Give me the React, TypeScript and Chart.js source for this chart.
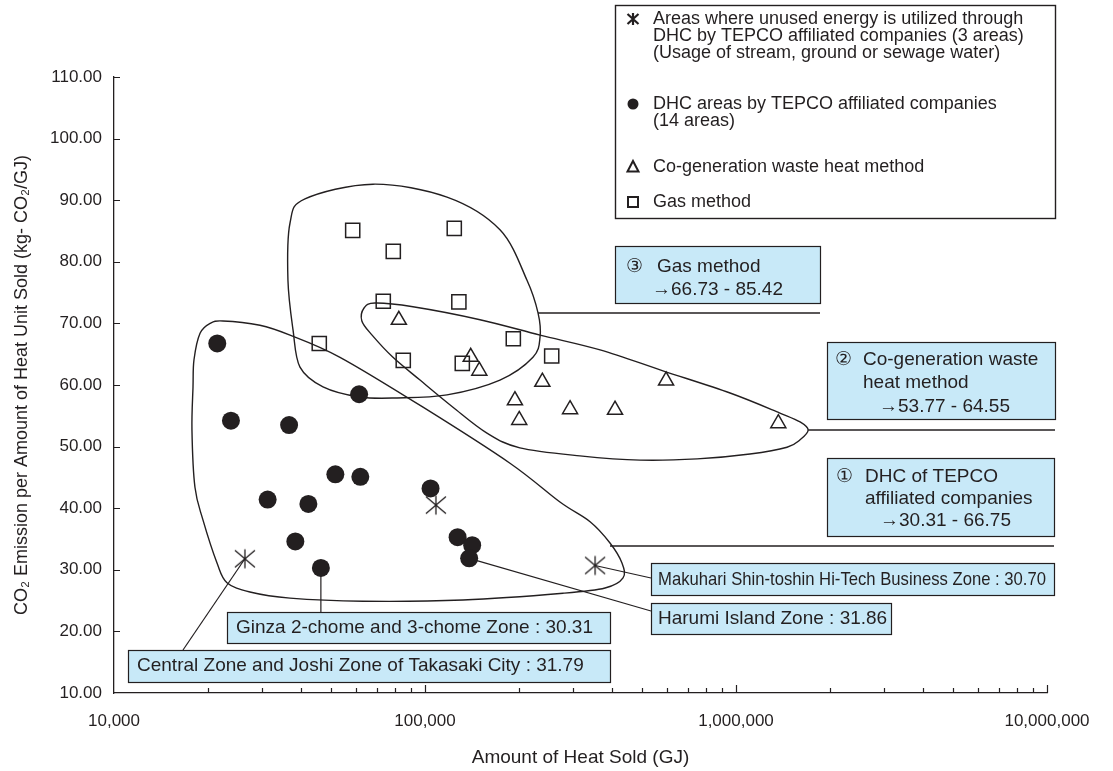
import React, { useEffect, useRef } from 'react';
import { Chart, registerables } from 'chart.js';

Chart.register(...registerables);

const FONT = '"Liberation Sans", Arial, Helvetica, sans-serif';
const INK = '#231f20';
const BOX_FILL = '#c8e9f8';

// ---------------- data ----------------
// Areas where unused energy is utilized (asterisks)
const unusedX = [26360, 108400, 352300];
const unusedY = [31.79, 40.5, 30.7];

// DHC areas by TEPCO affiliated companies (filled circles)
const dhcX = [21480, 23770, 36560, 61400, 51500, 61950, 104200, 31190, 42170, 38290, 46260, 127300, 141800, 138700];
const dhcY = [66.75, 54.2, 53.5, 58.5, 45.5, 45.1, 43.2, 41.4, 40.7, 34.6, 30.31, 35.3, 34.0, 31.86];

// Co-generation waste heat method (triangles)
const cogenX = [82400, 140300, 149500, 238400, 194600, 200900, 292700, 595900, 408300, 1368000];
const cogenY = [70.55, 64.55, 62.3, 60.5, 57.5, 54.3, 56.05, 60.7, 55.95, 53.77];

// Gas method (squares)
const gasX = [58550, 124200, 79070, 73420, 128500, 45710, 85130, 131800, 192300, 255500];
const gasY = [85.1, 85.42, 81.7, 73.6, 73.5, 66.73, 64.0, 63.5, 67.5, 64.7];

// group outlines (in data units)
const gasOutlineX = [41120, 68070, 117700, 174200, 212800, 230900, 234400, 222400, 174200, 117700, 81280, 61800, 46990, 39630, 37650, 36250, 36810];
const gasOutlineY = [90.2, 92.6, 90.5, 85.2, 77.0, 71.7, 67.8, 64.5, 60.8, 58.4, 57.9, 58.05, 59.7, 62.9, 68.9, 77.0, 86.3];

const cogenOutlineX = [63680, 69050, 91450, 150300, 234400, 365600, 582300, 957000, 1384000, 1607000, 1706000, 1607000, 1459000, 1109000, 749900, 491300, 314900, 201900, 158200, 123000, 96380, 78890, 67590, 62660];
const cogenOutlineY = [72.5, 73.3, 72.7, 70.6, 68.1, 65.7, 62.3, 58.7, 55.45, 54.0, 52.7, 51.1, 49.9, 48.8, 48.0, 47.8, 48.5, 49.8, 52.2, 56.4, 60.8, 64.5, 68.1, 70.4];

const dhcOutlineX = [22400, 29460, 36810, 53300, 98550, 187600, 271600, 339500, 393400, 429900, 433300, 379300, 277900, 132500, 63200, 36810, 27360, 23080, 21440, 19320, 18210, 17810, 17950, 18080, 18910, 20360];
const dhcOutlineY = [70.4, 69.7, 68.1, 64.5, 56.4, 47.3, 41.0, 37.8, 34.35, 31.1, 28.7, 27.05, 26.2, 25.1, 24.9, 25.4, 26.4, 27.9, 31.1, 38.1, 43.4, 52.7, 59.7, 64.1, 68.4, 70.0];

// connector anchors (data units)
const connectorX = [230900, 1706000, 393400];
const connectorY = [71.7, 52.7, 33.86];

// axis
const xTickValues = [10000, 100000, 1000000, 10000000];
const Y_MIN = 10;
const Y_MAX = 110;
const Y_STEP = 10;

const xTitle = 'Amount of Heat Sold (GJ)';
const yTitle = 'CO\u2082 Emission per Amount of Heat Unit Sold (kg- CO\u2082/GJ)';

const legendLines = [
  ['Areas where unused energy is utilized through', 'DHC by TEPCO affiliated companies (3 areas)', '(Usage of stream, ground or sewage water)'],
  ['DHC areas by TEPCO affiliated companies', '(14 areas)'],
  ['Co-generation waste heat method'],
  ['Gas method'],
];

// ---------------- helpers ----------------
function makeAsterisk(): HTMLCanvasElement {
  const c = document.createElement('canvas');
  c.width = 24;
  c.height = 24;
  const g = c.getContext('2d')!;
  g.strokeStyle = INK;
  g.lineWidth = 1.3;
  g.beginPath();
  g.moveTo(12, 2.5); g.lineTo(12, 21.5);
  g.moveTo(2, 3.5); g.lineTo(22, 20.5);
  g.moveTo(2, 20.5); g.lineTo(22, 3.5);
  g.stroke();
  return c;
}

function closedSpline(ctx: CanvasRenderingContext2D, pts: number[][]) {
  const n = pts.length;
  ctx.beginPath();
  ctx.moveTo(pts[0][0], pts[0][1]);
  const t = 1 / 6;
  for (let i = 0; i < n; i++) {
    const p0 = pts[(i - 1 + n) % n];
    const p1 = pts[i];
    const p2 = pts[(i + 1) % n];
    const p3 = pts[(i + 2) % n];
    ctx.bezierCurveTo(
      p1[0] + (p2[0] - p0[0]) * t, p1[1] + (p2[1] - p0[1]) * t,
      p2[0] - (p3[0] - p1[0]) * t, p2[1] - (p3[1] - p1[1]) * t,
      p2[0], p2[1]
    );
  }
  ctx.closePath();
  ctx.stroke();
}

type TextItem = { t: string; x: number; y: number; max?: number };
type BoxSpec = { x: number; y: number; w: number; h: number; items: TextItem[] };

const boxes: BoxSpec[] = [
  { x: 615, y: 246, w: 205, h: 57, items: [
    { t: '\u2462', x: 626, y: 267 }, { t: 'Gas method', x: 657, y: 267 }, { t: '\u219266.73 - 85.42', x: 652, y: 290 }] },
  { x: 827, y: 342, w: 228, h: 77, items: [
    { t: '\u2461', x: 835, y: 360 }, { t: 'Co-generation waste', x: 863, y: 360 }, { t: 'heat method', x: 863, y: 383 }, { t: '\u219253.77 - 64.55', x: 879, y: 407 }] },
  { x: 827, y: 458, w: 227, h: 78, items: [
    { t: '\u2460', x: 836, y: 477 }, { t: 'DHC of TEPCO', x: 865, y: 477 }, { t: 'affiliated companies', x: 865, y: 499 }, { t: '\u219230.31 - 66.75', x: 880, y: 521 }] },
  { x: 651, y: 563, w: 403, h: 32, items: [{ t: 'Makuhari Shin-toshin Hi-Tech Business Zone : 30.70', x: 658, y: 580, max: 388 }] },
  { x: 651, y: 603, w: 240, h: 31, items: [{ t: 'Harumi Island Zone : 31.86', x: 658, y: 619 }] },
  { x: 227, y: 612, w: 383, h: 31, items: [{ t: 'Ginza 2-chome and 3-chome Zone : 30.31', x: 236, y: 628 }] },
  { x: 128, y: 650, w: 482, h: 32, items: [{ t: 'Central Zone and Joshi Zone of Takasaki City : 31.79', x: 137, y: 666 }] },
];

const annotationPlugin = {
  id: 'annotations',
  beforeDatasetsDraw(chart: any) {
    const { ctx } = chart;
    const xs = chart.scales.x;
    const ys = chart.scales.y;
    const P = (x: number, y: number) => [xs.getPixelForValue(x), ys.getPixelForValue(y)];
    ctx.save();
    ctx.strokeStyle = INK;
    ctx.lineWidth = 1.4;
    const outlines: [number[], number[]][] = [
      [gasOutlineX, gasOutlineY], [cogenOutlineX, cogenOutlineY], [dhcOutlineX, dhcOutlineY],
    ];
    outlines.forEach(([ox, oy]) => closedSpline(ctx, ox.map((x, i) => P(x, oy[i]))));

    // connectors from outlines to the range boxes
    const connectorEnds = [820, 1055, 1054];
    ctx.lineWidth = 1.5;
    connectorX.forEach((x, i) => {
      const [px, py] = P(x, connectorY[i]);
      ctx.beginPath();
      ctx.moveTo(px, py);
      ctx.lineTo(connectorEnds[i], py);
      ctx.stroke();
    });

    // leader lines to the labelled areas
    ctx.lineWidth = 1.2;
    const leaders: [number, number, number, number][] = [
      [unusedX[0], unusedY[0], 183, 650],
      [dhcX[10], dhcY[10], NaN, 612],
      [dhcX[13], dhcY[13], 651, 611],
      [unusedX[2], unusedY[2], 651, 578],
    ];
    leaders.forEach(([x, y, ex, ey]) => {
      const [px, py] = P(x, y);
      ctx.beginPath();
      ctx.moveTo(px, py);
      ctx.lineTo(isNaN(ex) ? px : ex, ey);
      ctx.stroke();
    });
    ctx.restore();
  },
  afterDatasetsDraw(chart: any) {
    const { ctx, chartArea } = chart;
    const xs = chart.scales.x;
    const ys = chart.scales.y;
    ctx.save();

    // inward tick marks
    ctx.strokeStyle = INK;
    ctx.lineWidth = 1.2;
    ctx.beginPath();
    for (let v = Y_MIN + Y_STEP; v <= Y_MAX; v += Y_STEP) {
      const py = Math.round(ys.getPixelForValue(v)) + 0.5;
      ctx.moveTo(chartArea.left, py);
      ctx.lineTo(chartArea.left + 6, py);
    }
    for (let d = 10000; d < 10000000; d *= 10) {
      for (let m = 1; m <= 10; m++) {
        const v = d * m;
        if (m === 1 && d === 10000) continue;
        const px = Math.round(xs.getPixelForValue(v)) + 0.5;
        const len = m === 1 || m === 10 ? 8 : 5;
        ctx.moveTo(px, chartArea.bottom);
        ctx.lineTo(px, chartArea.bottom - len);
      }
    }
    ctx.stroke();

    // callout boxes
    ctx.font = `19px ${FONT}`;
    ctx.textBaseline = 'middle';
    ctx.textAlign = 'left';
    boxes.forEach((b) => {
      ctx.fillStyle = BOX_FILL;
      ctx.fillRect(b.x, b.y, b.w, b.h);
      ctx.strokeStyle = INK;
      ctx.lineWidth = 1.2;
      ctx.strokeRect(b.x + 0.5, b.y + 0.5, b.w, b.h);
      ctx.fillStyle = INK;
      b.items.forEach((it) => {
        if (it.max) ctx.fillText(it.t, it.x, it.y, it.max);
        else ctx.fillText(it.t, it.x, it.y);
      });
    });

    // legend
    const lx = 615, ly = 5, lw = 440, lh = 213;
    ctx.fillStyle = '#ffffff';
    ctx.fillRect(lx, ly, lw, lh);
    ctx.strokeStyle = INK;
    ctx.lineWidth = 1.4;
    ctx.strokeRect(lx + 0.5, ly + 0.5, lw, lh);
    const rowY = [[19, 36, 53], [104, 121], [167, 0], [202]];
    ctx.font = `18px ${FONT}`;
    ctx.fillStyle = INK;
    legendLines.forEach((lines, i) => {
      lines.forEach((t, j) => ctx.fillText(t, 653, rowY[i][j]));
    });
    const sx = 633;
    ctx.lineWidth = 2.2;
    // asterisk symbol
    let sy = rowY[0][0];
    ctx.beginPath();
    ctx.moveTo(sx, sy - 6); ctx.lineTo(sx, sy + 6);
    ctx.moveTo(sx - 5.5, sy - 5); ctx.lineTo(sx + 5.5, sy + 5);
    ctx.moveTo(sx - 5.5, sy + 5); ctx.lineTo(sx + 5.5, sy - 5);
    ctx.stroke();
    // circle
    sy = rowY[1][0];
    ctx.beginPath();
    ctx.arc(sx, sy, 5.5, 0, Math.PI * 2);
    ctx.fill();
    // triangle
    sy = rowY[2][0];
    ctx.lineWidth = 2;
    ctx.beginPath();
    ctx.moveTo(sx, sy - 6);
    ctx.lineTo(sx + 5.5, sy + 4.5);
    ctx.lineTo(sx - 5.5, sy + 4.5);
    ctx.closePath();
    ctx.stroke();
    // square
    sy = rowY[3][0];
    ctx.strokeRect(sx - 5, sy - 5, 10, 10);

    ctx.restore();
  },
};

export default function App() {
  const canvasRef = useRef<HTMLCanvasElement | null>(null);

  useEffect(() => {
    const canvas = canvasRef.current;
    if (!canvas) return;
    const star = makeAsterisk();
    const toPts = (xs: number[], ys: number[]) => xs.map((x, i) => ({ x, y: ys[i] }));
    const chart = new Chart(canvas, {
      type: 'scatter',
      data: {
        datasets: [
          {
            label: 'Gas method',
            data: toPts(gasX, gasY),
            pointStyle: 'rect',
            pointRadius: 10,
            borderColor: INK,
            backgroundColor: 'rgba(0,0,0,0)',
            borderWidth: 1.5,
          },
          {
            label: 'Co-generation waste heat method',
            data: toPts(cogenX, cogenY),
            pointStyle: 'triangle',
            pointRadius: 8.7,
            borderColor: INK,
            backgroundColor: 'rgba(0,0,0,0)',
            borderWidth: 1.5,
          },
          {
            label: 'DHC areas by TEPCO affiliated companies',
            data: toPts(dhcX, dhcY),
            pointStyle: 'circle',
            pointRadius: 9,
            borderColor: INK,
            backgroundColor: INK,
            borderWidth: 0,
          },
          {
            label: 'Areas where unused energy is utilized',
            data: toPts(unusedX, unusedY),
            pointStyle: star as any,
            pointRadius: 10,
            borderColor: INK,
            backgroundColor: INK,
          },
        ],
      },
      options: {
        animation: false,
        responsive: true,
        maintainAspectRatio: false,
        events: [],
        layout: { padding: { left: 0, top: 77, right: 66, bottom: 0 } },
        plugins: {
          legend: { display: false },
          tooltip: { enabled: false },
        },
        scales: {
          x: {
            type: 'logarithmic',
            min: 10000,
            max: 10000000,
            afterBuildTicks: (s: any) => {
              s.ticks = xTickValues.map((v) => ({ value: v }));
            },
            afterFit: (s: any) => {
              s.height = 78;
            },
            ticks: {
              autoSkip: false,
              maxRotation: 0,
              padding: 18,
              color: INK,
              font: { family: FONT, size: 17 },
              callback: (v: any) => Number(v).toLocaleString('en-US'),
            },
            grid: { display: false, drawTicks: false },
            border: { display: true, color: INK, width: 1.3 },
            title: {
              display: true,
              text: xTitle,
              color: INK,
              font: { family: FONT, size: 19 },
              padding: { top: 4, bottom: 2 },
            },
          },
          y: {
            type: 'linear',
            min: Y_MIN,
            max: Y_MAX,
            afterFit: (s: any) => {
              s.width = 114;
            },
            ticks: {
              stepSize: Y_STEP,
              padding: 12,
              color: INK,
              font: { family: FONT, size: 17 },
              callback: (v: any) => Number(v).toFixed(2),
            },
            grid: { display: false, drawTicks: false },
            border: { display: true, color: INK, width: 1.3 },
            title: {
              display: true,
              text: yTitle,
              color: INK,
              font: { family: FONT, size: 18 },
              padding: { top: 11, bottom: 0 },
            },
          },
        },
      } as any,
      plugins: [annotationPlugin],
    });
    return () => chart.destroy();
  }, []);

  return (
    <div style={{ position: 'fixed', left: 0, top: 0, width: 1113, height: 771, background: '#ffffff' }}>
      <canvas ref={canvasRef} />
    </div>
  );
}
